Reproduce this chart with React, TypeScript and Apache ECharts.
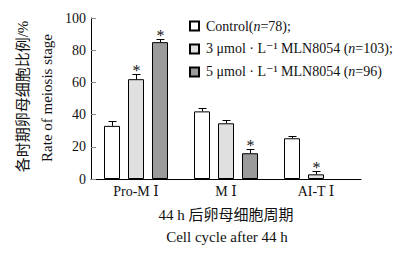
import React, { useEffect, useRef } from 'react';
import * as echarts from 'echarts';

const categories = ['Pro-M Ⅰ', 'M Ⅰ', 'AI-T Ⅰ'];
const seriesNames = ['Control', '3 umol', '5 umol'];
const controlValues = [33, 42, 25.3];
const controlErr = [3.2, 2, 1.2];
const lowValues = [62, 34.6, 2.9];
const lowErr = [3.2, 1.8, 1.9];
const highValues = [85, 16, 0];
const highErr = [1.8, 2.4, 0];
const controlStar = [0, 0, 0];
const lowStar = [1, 0, 1];
const highStar = [1, 1, 0];
const yTicks = { min: 0, max: 100, interval: 20 };

const SERIF = '"Liberation Serif", "DejaVu Serif", "Times New Roman", "Noto Sans CJK SC", serif';
const colors = ['#ffffff', '#e0e0e0', '#9b9b9b'];

const legendRich: Record<string, string> = {
  'Control': '{a|Control(}{i|n}{a|=78);}',
  '3 umol': '{a|3 μmol · L⁻¹ MLN8054 (}{i|n}{a|=103);}',
  '5 umol': '{a|5 μmol · L⁻¹ MLN8054 (}{i|n}{a|=96)}',
};

function buildErrData() {
  const groups = [
    [controlValues, controlErr, controlStar],
    [lowValues, lowErr, lowStar],
    [highValues, highErr, highStar],
  ];
  const out: number[][] = [];
  groups.forEach((g, gi) => {
    categories.forEach((_, ci) => {
      out.push([ci, g[0][ci], g[1][ci], gi, g[2][ci]]);
    });
  });
  return out;
}

export default function App() {
  const ref = useRef<HTMLDivElement>(null);
  useEffect(() => {
    const chart = echarts.init(ref.current!, null, { renderer: 'svg' });
    const barSeries = [controlValues, lowValues, highValues].map((vals, i) => ({
      type: 'bar',
      name: seriesNames[i],
      data: vals.map((v) => (v === 0 ? '-' : v)),
      barWidth: 16,
      barGap: '50%',
      itemStyle: { color: colors[i], borderColor: '#000', borderWidth: 1 },
      z: 2,
    }));
    const option: any = {
      animation: false,
      backgroundColor: '#fff',
      grid: { left: 91, right: 56, top: 18, bottom: 76, containLabel: false },
      legend: {
        orient: 'vertical',
        left: 184,
        top: 14,
        itemWidth: 9,
        itemHeight: 9,
        itemGap: 9,
        icon: 'rect',
        data: seriesNames,
        formatter: (name: string) => legendRich[name],
        textStyle: {
          padding: [0, 0, 0, 2],
          rich: {
            a: { fontFamily: SERIF, fontSize: 14, color: '#111' },
            i: { fontFamily: SERIF, fontSize: 14, fontStyle: 'italic', color: '#111' },
          },
        },
      },
      xAxis: {
        type: 'category',
        data: categories,
        z: 3,
        axisLine: { lineStyle: { color: '#000', width: 1 } },
        axisTick: { inside: true, length: 5, alignWithLabel: true, lineStyle: { color: '#000' } },
        axisLabel: { fontFamily: SERIF, fontSize: 14, color: '#111', margin: 5 },
      },
      yAxis: {
        type: 'value',
        min: yTicks.min,
        max: yTicks.max,
        interval: yTicks.interval,
        z: 3,
        splitLine: { show: false },
        axisLine: { show: true, lineStyle: { color: '#000', width: 1 } },
        axisTick: { show: true, inside: true, length: 5, lineStyle: { color: '#888' } },
        axisLabel: { fontFamily: SERIF, fontSize: 14, color: '#111', margin: 5 },
      },
      series: [
        ...barSeries,
        {
          type: 'custom',
          name: 'err',
          z: 4,
          encode: { x: 0, y: 1 },
          data: buildErrData(),
          renderItem: (params: any, api: any) => {
            const cat = api.value(0);
            const v = api.value(1);
            const e = api.value(2);
            const g = api.value(3);
            const star = api.value(4);
            const base = api.coord([cat, v]);
            const top = api.coord([cat, v + e]);
            const x = Math.round(base[0] + (g - 1) * 24) + 0.5;
            const ty = Math.round(top[1]) + 0.5;
            const children: any[] = [];
            if (e > 0) {
              children.push({
                type: 'line',
                shape: { x1: x, y1: base[1], x2: x, y2: ty },
                style: { stroke: '#000', lineWidth: 1 },
              });
              children.push({
                type: 'line',
                shape: { x1: x - 4, y1: ty, x2: x + 4, y2: ty },
                style: { stroke: '#000', lineWidth: 1 },
              });
            }
            if (star) {
              children.push({
                type: 'text',
                style: {
                  text: '*',
                  x: x,
                  y: ty - 4,
                  font: '16px ' + SERIF,
                  fill: '#111',
                  align: 'center',
                  verticalAlign: 'middle',
                  textAlign: 'center',
                  textVerticalAlign: 'middle',
                },
              });
            }
            return { type: 'group', children };
          },
        },
      ],
      graphic: [
        {
          type: 'text',
          x: 23,
          y: 96.5,
          rotation: Math.PI / 2,
          style: {
            text: '各时期卵母细胞比例/%',
            font: '15px ' + SERIF,
            fill: '#111',
            align: 'center',
            verticalAlign: 'middle',
            textAlign: 'center',
            textVerticalAlign: 'middle',
          },
        },
        {
          type: 'text',
          x: 47,
          y: 98,
          rotation: Math.PI / 2,
          style: {
            text: 'Rate of meiosis stage',
            font: '15px ' + SERIF,
            fill: '#111',
            align: 'center',
            verticalAlign: 'middle',
            textAlign: 'center',
            textVerticalAlign: 'middle',
          },
        },
        {
          type: 'text',
          x: 226,
          y: 215,
          style: {
            text: '44 h 后卵母细胞周期',
            font: '15px ' + SERIF,
            fill: '#111',
            align: 'center',
            verticalAlign: 'middle',
            textAlign: 'center',
            textVerticalAlign: 'middle',
          },
        },
        {
          type: 'text',
          x: 227,
          y: 237,
          style: {
            text: 'Cell cycle after 44 h',
            font: '15px ' + SERIF,
            fill: '#111',
            align: 'center',
            verticalAlign: 'middle',
            textAlign: 'center',
            textVerticalAlign: 'middle',
          },
        },
      ],
    };
    chart.setOption(option);
    return () => chart.dispose();
  }, []);
  return (
    <div
      ref={ref}
      style={{ position: 'fixed', left: 0, top: 0, width: 417, height: 255, background: '#fff' }}
    />
  );
}
